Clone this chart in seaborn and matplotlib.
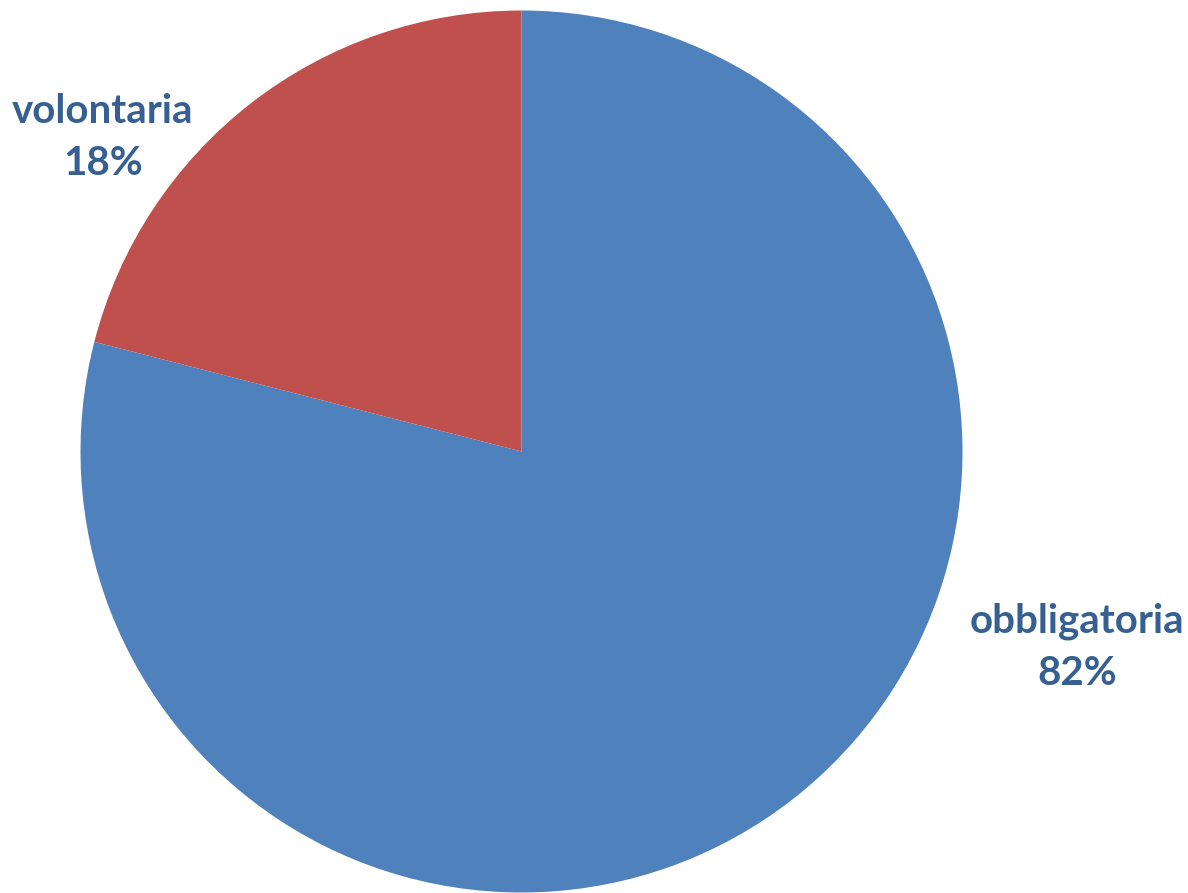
import matplotlib
matplotlib.use('Agg')
import matplotlib.pyplot as plt
import seaborn as sns

# Data
categories = ['obbligatoria', 'volontaria']
shares = [79, 21]                 # slice sizes as drawn
pct_labels = ['82%', '18%']       # percentages printed on the chart
colors = ['#4F81BD', '#C0504D']

sns.set_theme(style='white')
plt.rcParams['font.family'] = ['Lato', 'DejaVu Sans']

fig = plt.figure(figsize=(11.88, 8.93), dpi=100)
# square axes holding the pie (882 x 882 px)
ax = fig.add_axes([80.5 / 1188, 0.5 / 893, 882 / 1188, 882 / 893])

ax.pie(shares, colors=colors, startangle=90, counterclock=False,
       radius=1, wedgeprops=dict(linewidth=0))
ax.set_xlim(-1, 1)
ax.set_ylim(-1, 1)
ax.set_aspect('equal')
ax.axis('off')

# data labels, placed like Excel's best fit
label_pos = [(1.26, -0.443), (-0.949, 0.711)]
for name, pct, (x, y) in zip(categories, pct_labels, label_pos):
    ax.text(x, y, f'{name}\n{pct}', ha='center', va='center',
            fontsize=29, fontweight='bold', color='#366092',
            linespacing=1.5, clip_on=False)

fig.savefig('out.png', dpi=100)
